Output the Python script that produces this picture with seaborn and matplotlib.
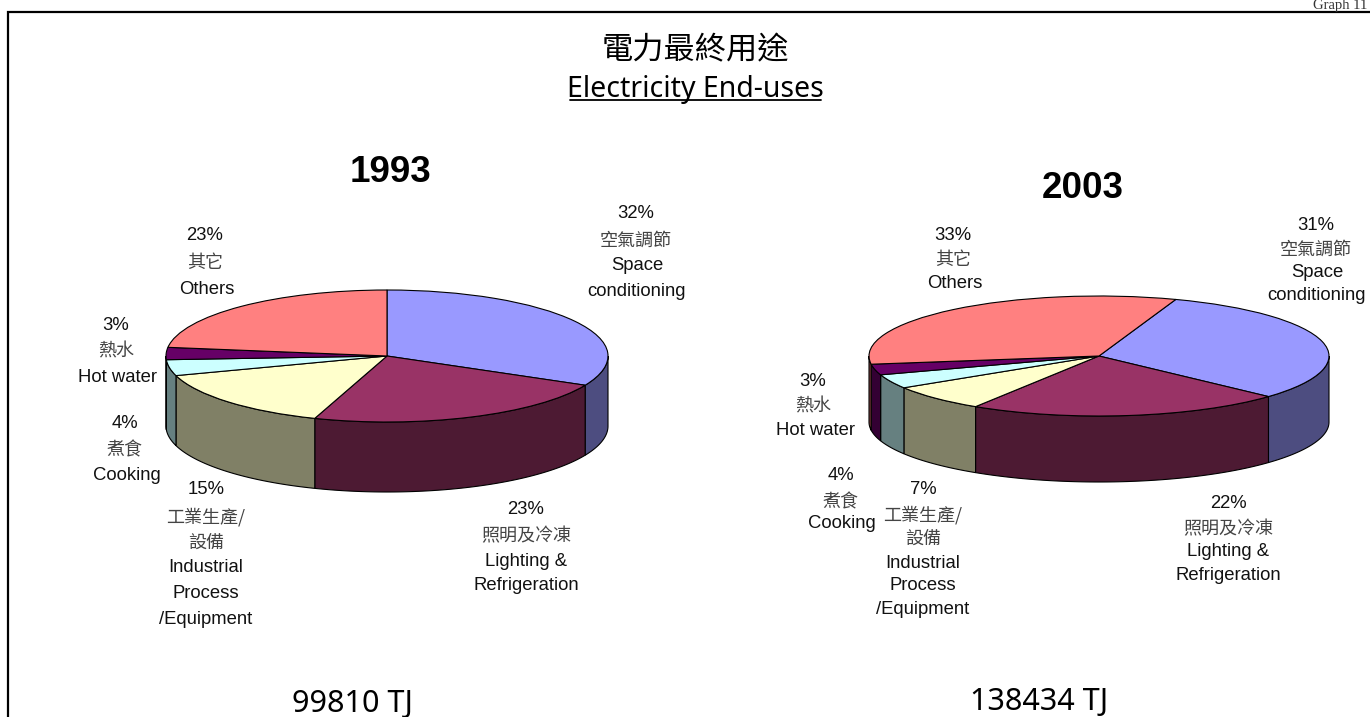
import numpy as np
import matplotlib
matplotlib.use('Agg')
import matplotlib.pyplot as plt
from matplotlib.lines import Line2D
from matplotlib.patches import Rectangle
import seaborn as sns

# datos
end_uses_zh = ['空氣調節', '照明及冷凍', '工業生產/\n設備', '煮食', '熱水', '其它']
end_uses_en = ['Space\nconditioning', 'Lighting &\nRefrigeration', 'Industrial\nProcess\n/Equipment',
               'Cooking', 'Hot water', 'Others']
shares_1993 = [32.3, 23.0, 14.9, 3.9, 3.0, 22.9]
shares_2003 = [31.4, 22.2, 7.1, 3.8, 2.9, 32.6]
total_1993 = '99810 TJ'
total_2003 = '138434 TJ'
slice_colors = ['#9999FF', '#993366', '#FFFFCC', '#CCFFFF', '#660066', '#FF8080']

W, H = 1370, 717
LATIN = ['Liberation Sans', 'Noto Sans CJK TC']
CJK = ['Noto Sans CJK TC', 'DejaVu Sans']
NOTO = ['Noto Sans', 'DejaVu Sans']

sns.set_theme(style='white')
plt.rcParams['font.family'] = LATIN

fig = plt.figure(figsize=(W / 100, H / 100), dpi=100, facecolor='white')


def put(x, y, s, size=13, family=LATIN, color='black', **kw):
    return fig.text(x / W, 1 - y / H, s, fontsize=size, family=family, color=color,
                    ha=kw.pop('ha', 'center'), va='center', **kw)


# Pie con perspectiva: la elipse sale de una caja mas ancha que alta
def pie_3d(values, cx, cy, rx, ry, depth, start):
    ax = fig.add_axes([(cx - rx) / W, 1 - (cy + ry) / H, 2 * rx / W, 2 * ry / H])
    ax.pie(values, colors=slice_colors, startangle=start, counterclock=False, radius=1,
           wedgeprops={'edgecolor': 'black', 'linewidth': 0.8, 'clip_on': False})
    ax.set_aspect('auto')
    ax.patch.set_visible(False)

    d = depth / ry
    walls = np.array(sns.color_palette(slice_colors)) * 0.5
    ends = np.cumsum(values) * 3.6
    begins = ends - np.array(values) * 3.6
    for b, e, col in zip(begins, ends, walls):
        hi = min(start - b, 0)
        lo = max(start - e, -180)
        if lo >= hi:
            continue
        t = np.radians(np.linspace(lo, hi, 80))
        xs = np.r_[np.cos(t), np.cos(t)[::-1]]
        ys = np.r_[np.sin(t), np.sin(t)[::-1] - d]
        ax.fill(xs, ys, facecolor=col, edgecolor='black', linewidth=0.8, clip_on=False, zorder=0)
    ax.set_xlim(-1, 1)
    ax.set_ylim(-1, 1)
    return ax


def label(x, ys, shift, pct, zh, en):
    lines = [pct] + zh.split('\n') + en.split('\n')
    n_zh = len(zh.split('\n'))
    for i, (line, y) in enumerate(zip(lines, ys)):
        is_zh = 1 <= i <= n_zh
        dx = 0 if i <= n_zh else shift
        put(x + dx, y + 1, line, size=13 if is_zh else 13.3, family=CJK if is_zh else LATIN,
            color='#444444' if is_zh else '#111111')


pie_3d(shares_1993, 387, 356, 221, 66, 70, 90)
pie_3d(shares_2003, 1099, 356, 230, 60, 66, 70.5)

# marco, el lado derecho queda fuera de la imagen
fig.add_artist(Rectangle((8 / W, -0.02), 1.02, 1 - 12 / H + 0.02, transform=fig.transFigure,
                         facecolor='none', edgecolor='black', linewidth=1.6))

# titulos
put(695, 50, '電力最終用途', size=22.5, family=CJK)
put(695, 89, 'Electricity End-uses', size=20.5, family=NOTO)
fig.add_artist(Line2D([570 / W, 821 / W], [1 - 100 / H, 1 - 100 / H], color='black', linewidth=1.3))
put(390, 172, '1993', size=26.5, fontweight='bold')
put(1083, 189, '2003', size=26.5, fontweight='bold')
put(352, 704, total_1993, size=22, family=NOTO)
put(1039, 702, total_2003, size=22, family=NOTO)
put(1367, 5, 'Graph 11', size=10.5, family=['Liberation Serif'], color='#333333', ha='right')

# etiquetas: x, posiciones y de cada linea, ajuste del texto ingles
layout_1993 = [
    (636, [213, 240, 265, 291], 1),
    (526, [508, 535, 561, 585], 0),
    (206, [488, 516, 542, 567, 593, 618], 0),
    (125, [422, 449, 475], 2),
    (116, [324, 351, 376], 2),
    (205, [235, 262, 288], 2),
]
layout_2003 = [
    (1316, [224, 249, 272, 295], 1),
    (1228, [503, 528, 551, 574], 0),
    (923, [489, 514, 538, 562, 585, 608], 0),
    (841, [475, 501, 523], 1),
    (813, [381, 406, 430], 3),
    (953, [234, 259, 283], 2),
]
for shares, layout in ((shares_1993, layout_1993), (shares_2003, layout_2003)):
    for v, zh, en, (x, ys, shift) in zip(shares, end_uses_zh, end_uses_en, layout):
        label(x, ys, shift, f'{v:.0f}%', zh, en)

fig.savefig('out.png', dpi=100, facecolor='white')
